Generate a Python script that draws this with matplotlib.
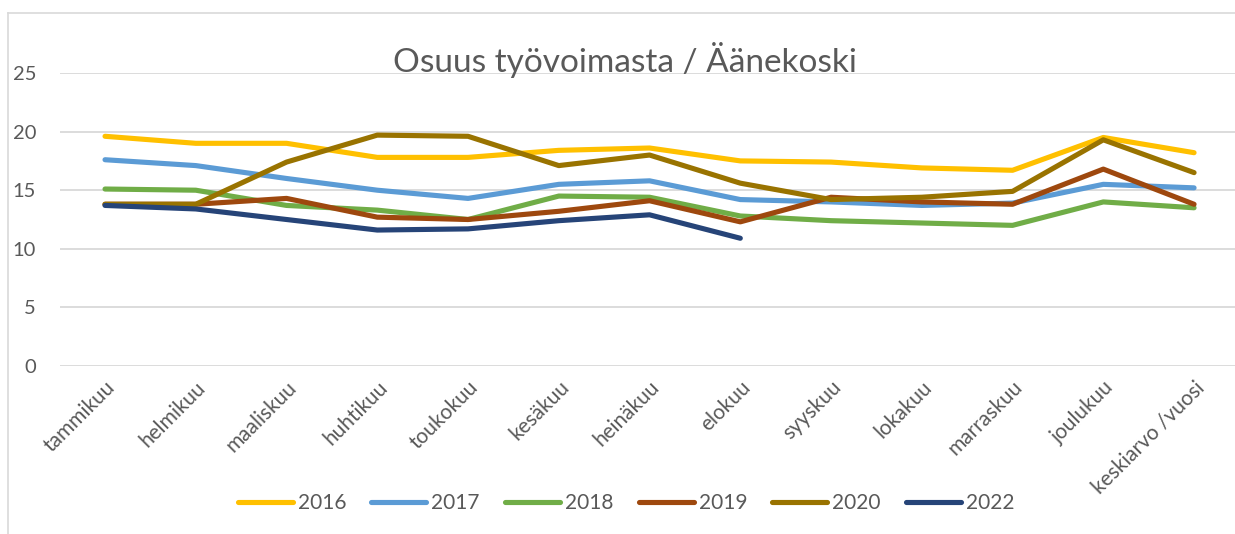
import matplotlib
matplotlib.use("Agg")
import matplotlib.pyplot as plt
from matplotlib.lines import Line2D

plt.rcParams['font.family'] = ['Lato', 'DejaVu Sans']

# data
months = ["tammikuu", "helmikuu", "maaliskuu", "huhtikuu", "toukokuu", "kesäkuu",
          "heinäkuu", "elokuu", "syyskuu", "lokakuu", "marraskuu", "joulukuu",
          "keskiarvo /vuosi"]

y2016 = [19.6, 19.0, 19.0, 17.8, 17.8, 18.4, 18.6, 17.5, 17.4, 16.9, 16.7, 19.5, 18.2]
y2017 = [17.6, 17.1, 16.0, 15.0, 14.3, 15.5, 15.8, 14.2, 14.0, 13.7, 13.9, 15.5, 15.2]
y2018 = [15.1, 15.0, 13.7, 13.3, 12.5, 14.5, 14.4, 12.8, 12.4, 12.2, 12.0, 14.0, 13.5]
y2019 = [13.8, 13.8, 14.3, 12.7, 12.5, 13.2, 14.1, 12.3, 14.4, 14.0, 13.8, 16.8, 13.8]
y2020 = [13.8, 13.8, 17.4, 19.7, 19.6, 17.1, 18.0, 15.6, 14.2, 14.4, 14.9, 19.3, 16.5]
y2022 = [13.7, 13.4, 12.5, 11.6, 11.7, 12.4, 12.9, 10.9]

series = [
    ("2016", y2016, "#FFC000"),
    ("2017", y2017, "#5B9BD5"),
    ("2018", y2018, "#70AD47"),
    ("2019", y2019, "#9E480E"),
    ("2020", y2020, "#997300"),
    ("2022", y2022, "#264478"),
]

text_col = "#595959"
grid_col = "#D9D9D9"

fig = plt.figure(figsize=(12.35, 5.34), dpi=100)
ax = fig.add_axes([0.0483, 0.3146, 0.9553, 0.5487])

handles = []
for name, vals, col in series:
    ax.plot(range(len(vals)), vals, color=col, linewidth=3.7,
            solid_capstyle="round", solid_joinstyle="round", zorder=3)
    handles.append(Line2D([0], [0], color=col, linewidth=3.7,
                          solid_capstyle="round", label=name))

ax.set_xlim(-0.5, len(months) - 0.5)
ax.set_ylim(0, 25)
ax.set_yticks([0, 5, 10, 15, 20, 25])
ax.set_xticks(range(len(months)))
ax.set_xticklabels(months, rotation=45, ha="right", rotation_mode="anchor",
                   fontsize=15, color=text_col)
ax.tick_params(axis="y", labelsize=14.5, labelcolor=text_col, length=0, pad=17)
ax.tick_params(axis="x", length=0, pad=8)
ax.grid(axis="y", color=grid_col, linewidth=1.3, zorder=0)
for s in ax.spines.values():
    s.set_visible(False)

fig.text(0.506, 0.888, "Osuus työvoimasta / Äänekoski", ha="center", va="center",
         fontsize=24, color=text_col)

fig.legend(handles=handles, loc="center", bbox_to_anchor=(0.507, 0.058), ncol=6,
           frameon=False, fontsize=15, handlelength=2.64, handletextpad=0.25,
           columnspacing=1.2, labelcolor=text_col)

# chart border (left and top edges)
fig.add_artist(Line2D([0.0065, 0.0065], [0.0, 0.975], color=grid_col, linewidth=1.2))
fig.add_artist(Line2D([0.0065, 1.0], [0.975, 0.975], color=grid_col, linewidth=1.2))

fig.savefig("out.png", dpi=100)
